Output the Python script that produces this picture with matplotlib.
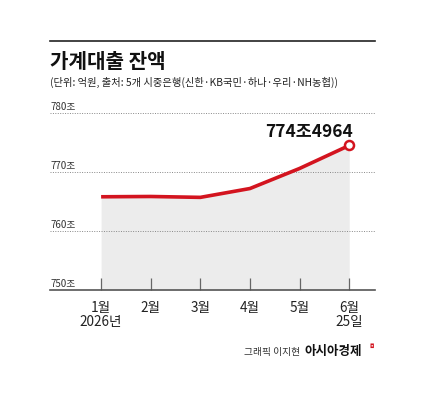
import matplotlib
matplotlib.use("Agg")
import matplotlib.pyplot as plt
import numpy as np

plt.rcParams['font.family'] = ['Noto Sans CJK KR', 'DejaVu Sans']

months = ['1월\n2026년', '2월', '3월', '4월', '5월', '6월\n25일']
balance = [765.8, 765.85, 765.7, 767.2, 770.6, 774.4964]
yticks = [750, 760, 770, 780]
last_label = '774조4964'

red = '#d3141f'
x = np.arange(len(months))

fig = plt.figure(figsize=(4.26, 4.02), dpi=100)
ax = fig.add_axes([50/426, 1 - 291/402, 325/426, 177/402])

ax.fill_between(x, balance, 750, color='#ececec', lw=0)
ax.plot(x, balance, color=red, lw=2.6, solid_capstyle='butt', zorder=3)
ax.plot(x[-1], balance[-1], 'o', ms=6.5, mfc='white', mec=red, mew=1.8, zorder=4)
ax.text(x[-1] + 0.08, balance[-1] + 1.0, last_label, ha='right', va='bottom',
        fontsize=12.5, fontweight='bold', color='#111111')

ax.set_xlim(-1.03, 5.52)
ax.set_ylim(750, 780)
for v in yticks[1:]:
    ax.axhline(v, color='#888888', lw=0.7, ls=(0, (1, 1.5)), zorder=1)
for v in yticks:
    ax.text(-1.03, v + 0.4, f'{v}조', ha='left', va='bottom', fontsize=7, color='#333333')

for s in ['top', 'right', 'left']:
    ax.spines[s].set_visible(False)
ax.spines['bottom'].set_color('#555555')
ax.spines['bottom'].set_linewidth(1.2)
ax.set_yticks([])
ax.set_xticks(x)
ax.set_xticklabels(months, fontsize=9.8, color='#222222', linespacing=1.05)
ax.tick_params(axis='x', direction='in', length=9, width=0.9, color='#666666', pad=7)

fig.add_artist(plt.Line2D([50/426, 375/426], [1 - 42/402, 1 - 42/402], color='#222222', lw=1.2))
fig.text(50/426, 1 - 61/402, '가계대출 잔액', fontsize=14.5, fontweight='bold', va='center', color='#111111')
fig.text(50/426, 1 - 82/402, '(단위: 억원, 출처: 5개 시중은행(신한·KB국민·하나·우리·NH농협))',
         fontsize=7.4, va='center', color='#222222')
fig.text(300/426, 1 - 352/402, '그래픽 이지현', fontsize=7, ha='right', va='center', color='#333333')
fig.text(304/426, 1 - 352/402, '아시아경제', fontsize=9, fontweight='bold', ha='left', va='center', color='#111111')
fig.text(372/426, 1 - 346/402, '◘', fontsize=4, color=red, ha='center', va='center', family=['DejaVu Sans'])

fig.savefig('out.png', dpi=100)
